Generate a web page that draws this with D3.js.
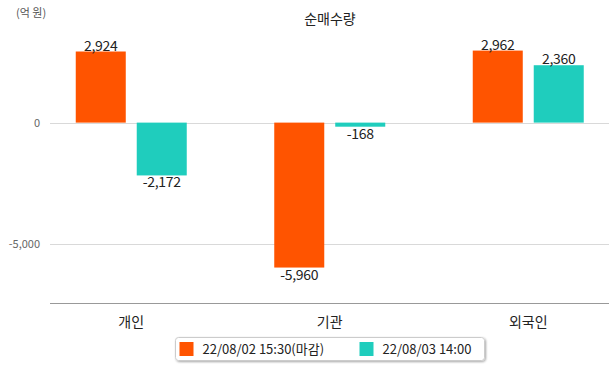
<!DOCTYPE html>
<html>
<head>
<meta charset="utf-8">
<script src="https://cdn.jsdelivr.net/npm/d3@7"></script>
<style>
body { margin: 0; background: #fff; }
svg { font-family: "Noto Sans CJK KR", "Noto Sans", sans-serif; }
</style>
</head>
<body>
<svg id="chart" width="615" height="368"></svg>
<script>
var categories = ['개인', '기관', '외국인'];
var seriesNames = ['22/08/02 15:30(마감)', '22/08/03 14:00'];
var closeValues = [2924, -5960, 2962];
var nowValues = [-2172, -168, 2360];
var yTicks = [0, -5000];
var colors = ['#ff5400', '#1fcdbd'];

var svg = d3.select('#chart');
var x0 = d3.scaleBand().domain(categories).range([32, 627.5]);
var x1 = d3.scaleBand().domain([0, 1]).range([0, 111]).paddingInner(0.18);
var y = d3.scaleLinear().domain([-7430, 3500]).range([303.3, 37.5]);
var fmt = function(v){return d3.format(',')(v).replace('\u2212', '-');};

// grid + y labels
svg.selectAll('.grid').data(yTicks).enter().append('line')
    .attr('x1', 50).attr('x2', 609)
    .attr('y1', function(d){return Math.round(y(d)) + 0.5;}).attr('y2', function(d){return Math.round(y(d)) + 0.5;})
    .style('stroke', '#d9d9d9').style('stroke-width', 1);
svg.selectAll('.ylab').data(yTicks).enter().append('text')
    .attr('x', 40).attr('y', function(d){return y(d) + 4;})
    .attr('text-anchor', 'end').style('font-size', '11px').style('fill', '#666')
    .text(function(d){return fmt(d);});

// bars
var rows = categories.map(function(c, i){return {cat: c, vals: [closeValues[i], nowValues[i]]};});
var g = svg.selectAll('.grp').data(rows).enter().append('g')
    .attr('transform', function(d){return 'translate(' + (x0(d.cat) + (x0.bandwidth() - 111) / 2) + ',0)';});
g.selectAll('rect').data(function(d){return d.vals;}).enter().append('rect')
    .attr('x', function(d, i){return x1(i);})
    .attr('width', x1.bandwidth())
    .attr('y', function(d){return y(Math.max(0, d));})
    .attr('height', function(d){return Math.abs(y(d) - y(0));})
    .style('fill', function(d, i){return colors[i];});
g.selectAll('text').data(function(d){return d.vals;}).enter().append('text')
    .attr('x', function(d, i){return x1(i) + x1.bandwidth() / 2;})
    .attr('y', function(d){return d >= 0 ? y(d) - 1 : y(d) + 12;})
    .attr('text-anchor', 'middle').style('font-size', '14px').style('fill', '#222')
    .style('letter-spacing', '-0.3px')
    .text(function(d){return fmt(d);});

// x axis
svg.append('line').attr('x1', 50).attr('x2', 609).attr('y1', 303.5).attr('y2', 303.5)
    .style('stroke', '#999').style('stroke-width', 1);
svg.selectAll('.xlab').data(categories).enter().append('text')
    .attr('x', function(d){return x0(d) + x0.bandwidth() / 2;}).attr('y', 327)
    .attr('text-anchor', 'middle').style('font-size', '14px').style('fill', '#222')
    .text(function(d){return d;});

// titles
svg.append('text').attr('x', 330).attr('y', 24).attr('text-anchor', 'middle')
    .style('font-size', '14px').style('fill', '#222').text('순매수량');
svg.append('text').attr('x', 16).attr('y', 17)
    .style('font-size', '11px').style('fill', '#555').text('(억 원)');

// legend
var defs = svg.append('defs');
var f = defs.append('filter').attr('id', 'sh').attr('x', '-10%').attr('y', '-30%').attr('width', '120%').attr('height', '180%');
f.append('feDropShadow').attr('dx', 1).attr('dy', 1).attr('stdDeviation', 1).attr('flood-color', '#000').attr('flood-opacity', 0.35);
svg.append('rect').attr('x', 175.5).attr('y', 337.5).attr('width', 309).attr('height', 23).attr('rx', 3)
    .style('fill', '#fff').style('stroke', '#ccc').attr('filter', 'url(#sh)');
var lx = [179.5, 359.5];
var lg = svg.selectAll('.leg').data(seriesNames).enter().append('g')
    .attr('transform', function(d, i){return 'translate(' + lx[i] + ',342)';});
lg.append('rect').attr('width', 14).attr('height', 14).style('fill', function(d, i){return colors[i];});
lg.append('text').attr('x', 23).attr('y', 12).style('font-size', '13px').style('fill', '#222')
    .text(function(d){return d;});
</script>
</body>
</html>
